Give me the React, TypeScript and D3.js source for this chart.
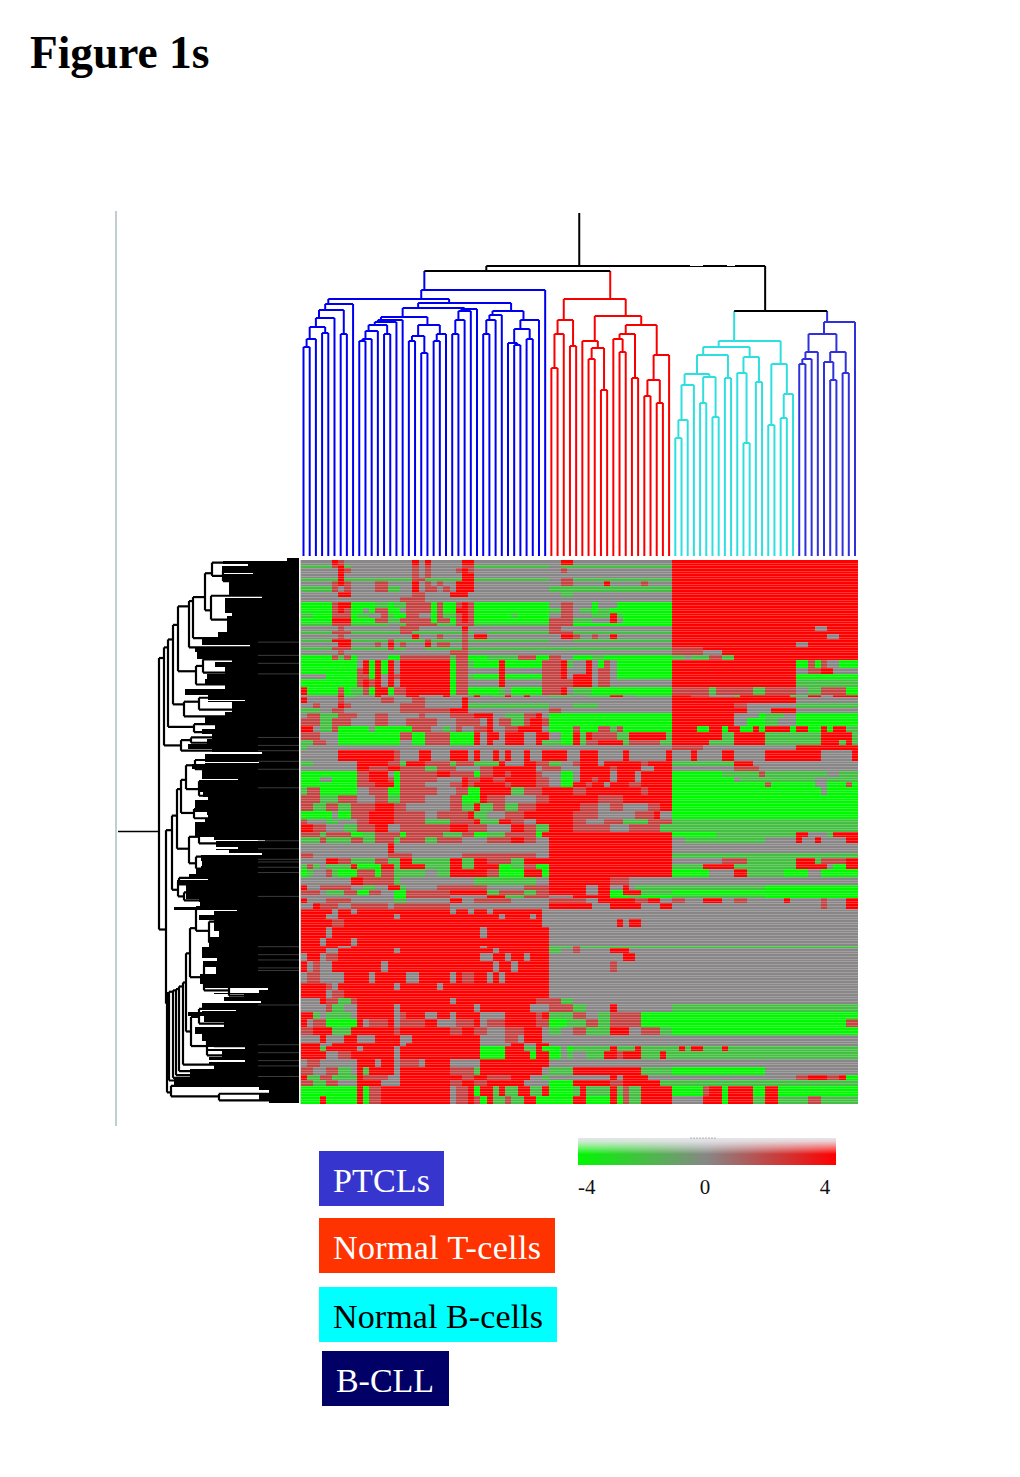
import React from 'react';
import * as d3 from 'd3';

// heatmap rows: [genes in band, runs], each run = value letter + column where it ends
const topRows: [number, string][] = [
  [2, 'A5 R6 r7 A18 R19 A20 R21 A26 R28 A42 R44 A60 R90'],
  [1, 'g5 r6 R7 g8 A18 r19 A20 r21 A26 r28 g40 A42 g44 g60 R90'],
  [2, 'A6 R7 r8 A18 r19 A20 r21 A25 r26 R27 r28 A42 r43 A60 R90'],
  [2, 'A6 R7 A18 r19 A20 r21 A26 R28 A44 A60 R90'],
  [1, 'g6 R7 g18 r20 g26 R28 g40 A42 r44 g60 R90'],
  [2, 'A5 r6 R7 r8 A12 r14 A18 R19 A20 r21 A22 r23 A25 R28 A42 r44 A49 R50 A55 r56 A60 R90'],
  [2, 'g5 r6 A7 r8 A12 r14 g16 A18 R19 A20 r22 A23 r24 A25 R28 A40 g60 R90'],
  [2, 'A6 R8 A18 r20 A24 R27 A42 g44 A60 R90'],
  [2, 'A16 r20 A60 R90'],
  [2, 'G5 r6 R8 G12 g14 G15 g17 r21 G22 r23 G25 r26 R27 r28 G40 A42 r44 A47 G48 A51 G60 R90'],
  [2, 'G5 r6 R7 r8 G10 A11 G12 r14 G16 A17 r21 G22 r23 G25 R27 r28 G40 g42 r44 A45 g47 G48 g50 G60 R90'],
  [2, 'g2 G5 r8 G9 g11 A13 r14 g15 G17 r19 A21 G22 r23 g25 r26 R27 r28 G34 g35 G40 A42 r44 A47 g50 R51 g52 G60 R90'],
  [2, 'G5 R8 G12 r14 g16 r21 G22 r24 G25 r26 R27 r28 G40 r44 g47 A50 R51 A52 G60 R90'],
  [1, 'g5 r8 g14 A16 g17 r22 g25 r28 g40 r44 G60 R90'],
  [2, 'A6 r7 A16 r19 A26 R27 A40 r42 A60 R83 A85 R90'],
  [1, 'g5 r8 g16 r18 g26 r27 g28 A30 g40 r44 g60 R90'],
  [2, 'A6 r7 A18 R19 A22 r23 A26 r27 A28 R30 A42 R44 r45 A47 r48 A50 R51 A60 R85 A87 R90'],
  [1, 'g5 R8 g14 r15 g20 r21 g26 r27 g40 A44 g60 R90'],
  [2, 'A6 R8 A12 r13 A14 R15 A16 r17 A20 R21 A22 r24 A26 r27 A60 R80 A82 R90'],
  [1, 'g5 r8 g14 r15 g17 A20 g26 r27 g60 r65 R90'],
  [2, 'A6 r7 A24 r27 A60 r65 A68 R90'],
  [2, 'G5 r6 g7 r8 G9 A14 G16 r24 g25 r27 G30 g35 r38 G40 r42 A44 G47 g49 G60 g62 A63 g66 r68 g70 R90'],
  [3, 'G9 A10 R11 G12 R13 G14 R15 A16 R24 G25 r27 g28 G32 R33 G39 r42 R43 g44 A46 R47 A48 G49 r50 A51 G60 R80 G82 r83 G84 r85 A87 G90'],
  [2, 'G9 r10 R11 G12 R13 G14 R15 A16 R24 G25 r27 A32 R33 A39 r42 R43 A46 R47 A48 r50 A51 G60 R80 A82 r84 R86 A90'],
  [2, 'A4 G9 r11 G12 R13 A14 R15 r16 R24 G25 r27 g28 G32 R33 G39 r42 R43 A44 R47 A48 r50 A51 G60 R80 G90'],
  [3, 'G9 r10 R11 r12 R13 A14 R15 A16 R24 G25 r27 A32 R33 A39 r44 R47 A48 r50 A60 R80 g90'],
  [3, 'R1 G6 r7 G8 g10 r11 G12 R14 G15 r17 R24 G25 r27 G32 g33 A34 G39 r42 R43 A44 g47 G60 r66 g67 r73 g75 r80 A82 g84 r88 G90'],
  [1, 'A6 R7 g9 A12 R13 A17 R19 A23 R24 A28 R29 A31 g33 R34 A36 R37 A40 g44 A46 g50 R52 A54 g60 R63 r66 A70 g71 R79 g82 R84 A86 R90'],
  [2, 'R1 A6 r7 A13 r15 A18 r20 A26 R27 A60 R80 A90'],
  [2, 'A2 r3 A6 R7 r8 A16 r20 A26 R27 g40 A44 g48 A60 R70 r72 A80 g90'],
  [2, 'g3 A5 r7 A16 r24 R27 A40 r42 A60 R72 A76 R80 A90'],
  [2, 'A1 r3 g6 r9 A12 r14 A19 r20 A24 r28 R31 A33 g36 r38 R39 A40 G60 R70 A74 G75 g78 A80 G90'],
  [3, 'r3 g5 r8 A12 r14 A17 r22 A25 r29 A30 R31 A32 r34 g36 r37 R39 r40 G60 R70 A72 G75 g77 A80 G90'],
  [2, 'R2 A3 g5 r6 G11 A12 G18 r21 A23 g24 A25 r26 A28 r30 R31 A33 r35 R37 R39 A40 G44 r45 G48 r50 g51 r52 G60 R64 G66 R68 G69 R71 G73 R74 G75 R79 G80 R82 G84 R85 G86 R88 g90'],
  [3, 'r3 A6 G16 r18 G20 r24 G28 R29 A30 R32 A33 R36 A38 R40 A42 G44 R45 g46 R47 r51 g53 R59 g60 R68 g70 R75 g84 R89 g90'],
  [2, 'g2 r4 A6 G16 A18 G20 r24 G28 R29 A30 R31 A33 R36 A38 R39 g42 G44 R45 g46 r48 R52 g53 r58 g60 R66 g70 R75 g84 R87 g88 R89 g90'],
  [2, 'g1 A60 r65 A80 R90'],
  [4, 'A6 R15 r16 A19 R21 A24 R27 A28 R29 A31 R32 A33 R34 A36 R37 A39 R43 A45 R48 A52 R53 A59 R60 A63 R64 A68 R70 A75 R84 A89 R90'],
  [2, 'g2 A9 R14 r16 g17 R20 r24 g25 r28 g32 R33 A36 R38 r40 g42 A44 r45 R48 A49 R55 r56 R60 g70 R73 A90'],
  [2, 'A9 R11 r14 R16 r20 g22 r25 A29 r31 R33 R38 A39 r42 A45 R50 r51 R55 A57 R60 A70 r74 A90'],
  [2, 'G9 r11 R14 A15 G16 r22 R24 r28 G29 r31 R33 r34 R38 r39 A42 G44 A45 R50 A51 R54 A55 R60 G68 g74 r75 g85 A87 g90'],
  [2, 'G3 A5 G9 r11 R14 r15 G16 r22 A26 R27 r29 R31 r33 R38 r40 A42 G44 A45 R47 r48 R50 A51 R54 A55 R60 G70 A71 g83 A85 g90'],
  [2, 'G9 r12 R15 G16 r20 A24 r26 R27 r28 R33 r34 R38 r40 A42 G44 R46 r47 R49 A50 R53 r55 R60 G75 r76 G83 A85 G88 r89 G90'],
  [3, 'g1 r3 G9 A11 r14 G16 r22 A25 r27 G29 R33 R34 g36 r39 R44 r46 R55 r56 R60 G84 A85 G90'],
  [3, 'r3 g6 r9 A12 r14 g16 r20 A24 r26 G29 R30 r33 A35 A38 r40 R48 r52 R57 R60 G90'],
  [3, 'r2 g4 r6 g8 r12 R15 r17 A24 r26 g28 R29 g31 r33 g35 r38 R45 r48 A50 r52 A56 r58 R60 G90'],
  [3, 'G5 A6 G8 r11 R15 r20 A22 r27 R28 g30 A33 r36 R44 r48 A54 r57 R58 A60 G90'],
  [2, 'r1 A4 g6 A9 r11 R15 r20 g24 r28 R29 g32 R34 r36 A38 R44 r46 A49 r52 g56 r60 g90'],
  [3, 'R2 r4 A7 g9 r12 R14 A16 r24 R27 r30 A34 R36 r38 g40 R44 r50 A53 r58 g60 g90'],
];

const bottomRows: [number, string][] = [
  [2, 'r3 g4 r8 G10 g12 r16 G17 r23 g26 r28 G30 g33 r38 G39 R60 G67 g80 R82 A85 g86 R88 R90'],
  [2, 'g3 r4 g8 r10 g12 r15 g16 r20 g22 r26 A30 r34 R36 r38 A40 R60 A62 g75 A80 R81 A83 R84 A88 R90'],
  [4, 'A14 R15 A40 R60 A90'],
  [2, 'r2 A14 r18 A26 r32 r38 A40 R60 g90'],
  [2, 'A4 R6 r8 g12 r14 g16 R18 g24 R26 g28 R30 r34 g36 R40 R60 A68 r72 g80 R83 g84 r88 R90'],
  [2, 'g1 r2 g3 A4 g8 R9 G13 R15 g16 R20 g24 R26 g28 R32 G34 g36 r38 G40 R60 g65 R70 g80 R85 A86 G88 R90'],
  [3, 'G1 g2 A4 r5 g6 G9 r12 G13 r15 g16 g20 A22 g24 R30 r32 G36 R39 G40 R60 G66 A70 R72 g78 G82 A84 G90'],
  [3, 'A8 R10 r15 g16 A28 g38 A40 R50 r53 A60 A90'],
  [2, 'R1 A3 r8 A10 g12 A14 R16 g17 A22 r30 A36 r40 R46 A48 R50 A52 R53 A54 g60 g75 G90'],
  [2, 'r3 A4 g7 r9 G11 r13 A15 G17 r24 R30 g32 r36 g38 r40 R46 A48 R50 G52 R55 g60 G90'],
  [1, 'A15 G17 r24 A30 R33 g36 r40 A44 R50 G53 g55 G60 g75 G90'],
  [2, 'R1 A4 r8 A15 g17 A24 R26 A28 r34 A40 r44 r46 A48 R54 r56 R58 A60 r62 A65 R68 A70 r72 A78 R79 A84 r85 A88 R90'],
  [2, 'A2 R3 r6 A8 r14 A15 r16 r24 A28 A40 R47 A50 R55 A58 R60 A84 r85 A88 R90'],
  [2, 'R5 A6 R8 A9 R24 A25 R27 A28 R30 A31 R39 A90'],
  [2, 'R4 A6 R8 R15 A16 R32 A33 R37 A38 R39 A90'],
  [3, 'R5 r7 R39 A51 R52 A53 R55 A90'],
  [4, 'R4 A5 R29 A30 R40 A90'],
  [3, 'R3 A4 R8 A9 R40 A90'],
  [1, 'R6 A8 R29 A30 R40 g44 r45 g90'],
  [2, 'R4 A6 R15 A16 R31 A32 R40 g42 A44 r45 A50 R51 R53 A55 A90'],
  [3, 'A1 R3 A4 r6 R29 A31 R33 A34 R36 A37 R40 A52 R54 A90'],
  [4, 'R1 A2 r3 A5 R13 A14 R31 A32 R34 A35 R40 A50 r51 A90'],
  [4, 'A1 r3 A7 R11 A12 R17 A19 R24 A25 R26 r28 R30 A31 R32 A33 R40 A90'],
  [3, 'R4 r5 A6 R15 A16 R22 A23 R40 A90'],
  [3, 'R4 A5 r7 R40 A90'],
  [2, 'A3 R4 r6 g8 r9 R24 A25 R38 r40 r42 g44 A90'],
  [3, 'A4 r5 g7 A9 R15 A16 R28 A29 R33 R37 A40 r44 g46 A50 R51 A60 g90'],
  [3, 'R2 g3 A4 g8 A9 R15 A16 r17 R20 A22 R24 A25 R29 A33 R38 r39 R40 g44 r46 A48 g50 r55 G60 G90'],
  [3, 'R1 A2 r4 G9 R10 A11 r14 R15 A16 r20 R22 A25 r28 R29 A30 r33 R38 r40 G43 g46 r48 g50 r55 G88 r90'],
  [3, 'r2 R5 g8 R15 r16 R24 r26 R28 r30 A33 r36 R39 A40 g42 A44 r46 g50 R53 A55 r58 g60 G90'],
  [3, 'A3 R4 A7 R9 A12 R16 A18 R29 A33 r35 A36 R39 A90'],
  [1, 'R3 A5 R16 A17 R29 A34 R36 A38 R40 A90'],
  [2, 'R3 g4 R9 A10 R15 A16 R29 G33 R36 g38 R39 G42 A43 G44 g50 R51 g54 R55 g60 g61 R62 g63 R65 g68 R69 g90'],
  [3, 'R4 A6 r8 R15 A16 R29 G33 R37 G38 R40 G42 A43 g44 A46 g49 R51 r52 R55 g58 R59 g60 g90'],
  [3, 'A1 r3 A9 R12 A13 R15 A16 r19 A20 R24 A29 R40 A90'],
  [3, 'r2 A4 r6 g8 A9 R10 g11 R15 A16 R24 r28 g29 R31 R36 R39 A40 g44 R55 g60 G75 A90'],
  [2, 'R1 g3 r5 g9 R10 r14 A16 R26 r28 R30 r34 R37 A39 g40 A50 R51 A52 R56 A60 A80 r82 R85 r87 R88 G90'],
  [2, 'r2 g4 r6 A9 R13 A16 R24 r26 R28 r30 R36 A40 G44 R50 r52 R58 g60 g90'],
  [4, 'G9 R10 G11 r13 R24 A25 r27 R28 G29 R31 g32 R33 g35 R36 R37 g39 R40 G44 g45 R46 g50 R51 g52 r53 g55 R60 G65 r66 R68 G69 R73 G75 R77 G90'],
  [3, 'G3 R4 G9 R10 G11 r13 R24 A25 r27 R28 r29 G30 R31 g33 r34 g36 R38 G40 G44 R46 G50 R51 G52 r53 g55 R60 A65 R68 G69 R73 g75 R77 g82 r84 g90'],
];

const valueByLetter: Record<string, number> = { G: -4, g: -2, A: 0, r: 2, R: 4 };

// column dendrogram: [distance, left, right], 0 is a leaf
type Node = [number, Node | 0, Node | 0];
const ptclLeft: Node = [252, [246, [238, [229, [217, [209, 0, 0], 0], [223, 0, 0]], 0], [222, 0, 0]], 0];
const ptclMidLeft: Node = [239, [236, [234, [231, [225, [217, [215, 0, 0], 0], 0], [222, 0, 0]], 0], 0],
  [231, [220, [215, 0, 0], [203, 0, 0]], [222, [215, 0, 0], 0]]];
const ptclMidRight: Node = [247, [245, [236, [222, 0, 0], 0], 0], 0];
const ptclRight: Node = [245, [241, [236, [222, 0, 0], 0], 0],
  [236, [227, [213, 0, [211, 0, 0]], [217, 0, 0]], 0]];
const ptclTree: Node = [266, [257, ptclLeft, [253, [248, ptclMidLeft, ptclMidRight], ptclRight]], 0];
const tcellTree: Node = [257, [236, [222, [188, 0, 0], 0], [210, 0, 0]],
  [240, [215, 0, [208, [197, 0, 0], [166, 0, 0]]],
    [231, [222, [217, 0, [204, 0, 0]], [178, 0, 0]], [201, [176, [160, 0, 0], [153, 0, 0]], 0]]]];
const bcellTree: Node = [215, [209, [201, [182, [171, [136, [118, 0, 0], 0], 0], [179, [153, 0, 0], [139, 0, 0]]], [178, 0, 0]],
  [199, [183, 0, [113, 0, 0]], [174, 0, 0]]],
  [192, [131, 0, 0], [162, [138, 0, 0], 0]]];
const bcllTree: Node = [234, [222, [204, [197, [192, 0, 0], 0], 0], [204, [194, 0, [176, 0, 0]], [183, 0, 0]]], 0];
const columnTree: Node = [290, [285, ptclTree, tcellTree], [245, bcellTree, bcllTree]];
const columnColors = new Map<Node, string>([
  [ptclTree, '#0000f0'],
  [tcellTree, '#f80000'],
  [bcellTree, '#2fdfdf'],
  [bcllTree, '#3030dc'],
]);

// row dendrogram: [depth, upper, lower], a number is a bundle of that many genes
type RowNode = [number, RowNode | number, RowNode | number];
const rowTopA: RowNode = [87, 2, [76, 4, 4]];
const rowTop: RowNode = [110, [106, [94, rowTopA, [88, 7, 11]], 3], 4];
const rowUpper: RowNode = [135, [131, [126, [121, rowTop, [103, [96, 5, 5], 4]], [115, [100, 6, 3], 2]], [105, 4, 2]], [118, [108, 2, 2], 4]];
const rowMid: RowNode = [127, [122, [118, [113, [104, 3, 4], [100, 5, 6]], [105, 4, 3]], [110, [100, 5, 6], [103, 4, 5]]], [121, [120, 2, 3], [115, 3, 3]]];
const rowChainCore: RowNode = [109, [103, 2, [90, 9, 7]], [95, [80, 6, 4], [70, 4, 5]]];
const rowChain: RowNode = [130, [126, [123, [120, [116, [113, rowChainCore, [108, [100, 5, 6], [92, [85, 4, 3], 4]]], 3], 2], 1], 1], 1];
const rowBottom: RowNode = [128, 3, [80, 3, 2]];
const rowTree: RowNode = [140, rowUpper, [133, rowMid, [132, rowChain, rowBottom]]];

// left edge of the solid black mass: [genes, depth]
const rowEdges: [number, number][] = [
  [1.2, 12], [1.2, 71], [0.5, 51], [0.4, 72], [2.2, 72], [0.5, 46], [0.7, 72], [2, 72], [0.4, 41], [0.3, 65], [5, 65], [0.6, 37], [0.6, 69], [5, 69],
  [1.2, 62], [6, 67], [2, 76], [3, 92], [0.5, 49], [0.5, 92], [1.5, 99], [2.5, 97], [1.2, 62], [1.9, 79], [2.5, 69],
  [1.9, 87], [2.5, 89], [1.5, 69], [2.2, 109], [1.9, 86], [0.4, 54], [0.2, 86], [3.8, 62], [1.9, 69], [2.5, 89],
  [1.9, 79], [1.9, 92], [1.9, 82], [1.9, 87], [1.9, 106], [1.2, 82], [0.7, 37], [0.8, 89], [2.2, 89], [0.4, 40], [0.2, 89],
  [1.9, 102], [3.8, 92], [0.7, 56], [0.5, 92], [3.8, 96], [1.9, 91], [1.2, 86], [4.4, 99], [1.2, 87], [1.2, 86],
  [1.2, 89], [3.8, 99], [1.9, 99], [1.2, 80], [0.5, 34], [0.4, 78], [1.6, 78], [0.7, 56], [0.5, 78], [1.2, 65], [0.5, 37], [0.4, 93],
  [1.9, 93], [1.9, 92], [1.2, 93], [1.9, 98], [1.2, 105], [1.2, 86], [1.9, 117], [5, 108], [1.2, 95],
  [1.9, 94], [1, 120], [0.5, 57], [0.25, 80], [1.4, 80], [1.9, 95], [3.8, 80], [2.5, 75], [3.8, 85], [3.8, 92],
  [1.2, 77], [2.5, 91], [2.5, 78], [3.8, 94], [1.5, 90], [0.6, 31], [1.2, 40], [0.5, 80], [1, 55], [1.5, 70], [0.6, 38], [0.6, 92], [1.9, 92], [0.6, 58], [0.6, 92],
  [1.2, 106], [2.5, 90], [1.9, 70], [2.5, 99], [2.5, 92], [2.5, 88], [0.6, 54], [0.9, 88], [2.2, 72], [1.2, 85],
  [0.6, 54], [1.3, 85], [1.2, 80], [3.8, 104], [3, 120], [1.2, 40], [1.2, 30], [2.5, 40], [1.2, 30],
];
// single genes that show as thin grey lines through the black
const greyGenes = [31, 36, 39, 43, 67, 70, 72, 76, 79, 86, 106, 109, 113, 114, 116, 118, 127, 146, 149, 151, 154, 155, 168, 183, 186, 189, 191, 195];

const legendEntries = [
  { label: 'PTCLs', fill: '#3636cf', ink: '#fff', x: 319, y: 1151, w: 125, span: 97 },
  { label: 'Normal T-cells', fill: '#ff3300', ink: '#fff', x: 319, y: 1218, w: 236, span: 208 },
  { label: 'Normal B-cells', fill: '#00ffff', ink: '#000', x: 319, y: 1287, w: 238, span: 210 },
  { label: 'B-CLL', fill: '#000066', ink: '#fff', x: 322, y: 1351, w: 127, span: 98 },
];
const scaleTicks = [-4, 0, 4];

const heatColor = d3.scaleLinear<string>().domain([-4, 0, 4]).range(['#00f800', '#888686', '#ff0000']);

const HEAT = { left: 301, right: 858, top: 560, bottom: 1104 };
const COLUMNS = 90;
const EDGE_PAD = 5;

function parseRuns(text: string) {
  const runs: { start: number; end: number; value: number }[] = [];
  let start = 0;
  for (const token of text.split(' ')) {
    const end = +token.slice(1);
    if (end <= start) continue;
    runs.push({ start, end, value: valueByLetter[token[0]] });
    start = end;
  }
  return runs;
}

function nodeColor(node: d3.HierarchyNode<Node | 0>) {
  for (const a of node.ancestors()) {
    const c = columnColors.get(a.data as Node);
    if (c) return c;
  }
  return '#000';
}

function ColumnDendrogram() {
  const root = d3.hierarchy<Node | 0>(columnTree, (d) => (d === 0 ? null : [d[1], d[2]]));
  const leafX = d3.scaleLinear().domain([0, COLUMNS - 1]).range([303.5, 855]);
  const distY = d3.scaleLinear().domain([0, 290]).range([556, 266]);
  const leaves = root.leaves();
  const index = new Map(leaves.map((l, i) => [l, i]));
  const xOf = (n: d3.HierarchyNode<Node | 0>) => d3.mean(n.leaves(), (l) => leafX(index.get(l)!))!;
  const yOf = (n: d3.HierarchyNode<Node | 0>) => distY(n.data === 0 ? 0 : n.data[0]);
  const parts: React.ReactNode[] = [];
  root.descendants().forEach((n, i) => {
    if (!n.children) return;
    const [a, b] = n.children;
    const y = yOf(n);
    n.children.forEach((c, j) => {
      parts.push(<path key={`s${i}-${j}`} d={`M${xOf(c)},${yOf(c)}V${y}`} stroke={nodeColor(c)} />);
    });
    parts.push(<path key={`h${i}`} d={`M${xOf(a)},${y}H${xOf(b)}`} stroke={nodeColor(n)} />);
  });
  return (
    <g fill="none" strokeWidth={2}>
      {parts}
      <path d={`M${xOf(root)},${yOf(root)}V213`} stroke="#000" />
      {[[690, 13], [727, 8]].map(([x, w]) => (
        <rect key={x} x={x} y={264} width={w} height={2} fill="#fff" />
      ))}
    </g>
  );
}

function RowDendrogram() {
  const root = d3.hierarchy<RowNode | number>(rowTree, (d) => (typeof d === 'number' ? null : [d[1], d[2]]));
  const depthX = d3.scaleLinear().domain([0, 181]).range([299, 118]);
  const leaves = root.leaves();
  const total = d3.sum(leaves, (l) => l.data as number);
  const geneY = d3.scaleLinear().domain([0, total]).range([HEAT.top, HEAT.bottom - 1]);
  const centre = new Map<unknown, { pos: number; n: number }>();
  let cursor = 0;
  for (const l of leaves) {
    const n = l.data as number;
    centre.set(l, { pos: cursor + n / 2, n });
    cursor += n;
  }
  const yOf = (node: d3.HierarchyNode<RowNode | number>) => {
    const ls = node.leaves();
    const n = d3.sum(ls, (l) => centre.get(l)!.n);
    return geneY(d3.sum(ls, (l) => centre.get(l)!.pos * centre.get(l)!.n) / n);
  };
  const edgeTotal = d3.sum(rowEdges, (d) => d[0]);
  const edgeY = d3.scaleLinear().domain([0, edgeTotal]).range([HEAT.top - 2, HEAT.bottom - 1]);
  let run = 0;
  const edgeRects = rowEdges.map(([genes, depth], i) => {
    const y0 = edgeY(run);
    run += genes;
    const pad = depth > 55 ? EDGE_PAD : 0;
    return <rect key={i} x={depthX(depth + pad)} y={y0} width={depthX(0) - depthX(depth + pad)} height={edgeY(run) - y0} fill="#000" />;
  });
  const lines: React.ReactNode[] = [];
  root.descendants().forEach((n, i) => {
    if (!n.children) return;
    const x = depthX((n.data as RowNode)[0]);
    const [a, b] = n.children;
    lines.push(<path key={`v${i}`} d={`M${x},${yOf(a)}V${yOf(b)}`} />);
    n.children.forEach((c, j) => {
      const cx = typeof c.data === 'number' ? depthX(0) : depthX(c.data[0]);
      lines.push(<path key={`l${i}-${j}`} d={`M${x},${yOf(c)}H${cx}`} />);
    });
  });
  return (
    <g>
      <g stroke="#000" strokeWidth={2.2} fill="none">{lines}</g>
      <path d={`M${depthX(140)},${yOf(root)}H${depthX(181)}`} stroke="#000" strokeWidth={1.5} />
      <g shapeRendering="crispEdges">{edgeRects}</g>
      {greyGenes.map((g) => (
        <line key={g} x1={258} x2={299} y1={geneY(g)} y2={geneY(g)} stroke="#555" strokeWidth={0.7} />
      ))}
    </g>
  );
}

function Heatmap() {
  const rows = [...topRows, ...bottomRows];
  const total = d3.sum(rows, (r) => r[0]);
  const x = d3.scaleLinear().domain([0, COLUMNS]).range([HEAT.left, HEAT.right]);
  const y = d3.scaleLinear().domain([0, total]).range([HEAT.top, HEAT.bottom]);
  let gene = 0;
  return (
    <g shapeRendering="crispEdges">
      {rows.map(([genes, text], i) => {
        const y0 = y(gene);
        gene += genes;
        const h = y(gene) - y0;
        return parseRuns(text).map((r) => (
          <rect key={`${i}-${r.start}`} x={x(r.start)} y={y0} width={x(r.end) - x(r.start)} height={h} fill={heatColor(r.value)} />
        ));
      })}
      {d3.range(1, total).map((g) => (
        <rect key={g} x={HEAT.left} y={Math.round(y(g))} width={HEAT.right - HEAT.left} height={1} fill="#fff" opacity={0.22} />
      ))}
      <rect x={HEAT.left - 1} y={HEAT.top} width={1} height={HEAT.bottom - HEAT.top} fill="#ccc" />
    </g>
  );
}

function ColorBar() {
  const x = d3.scaleLinear().domain([-4, 4]).range([578, 836]);
  return (
    <g>
      <defs>
        <linearGradient id="bar">
          {scaleTicks.map((t) => (
            <stop key={t} offset={(t + 4) / 8} stopColor={heatColor(t)} />
          ))}
        </linearGradient>
        <linearGradient id="fade" x2="0" y2="1">
          <stop offset="0" stopColor="#e4e4ea" stopOpacity={1} />
          <stop offset="0.12" stopColor="#e8e8ec" stopOpacity={0.9} />
          <stop offset="0.6" stopColor="#fff" stopOpacity={0} />
        </linearGradient>
      </defs>
      <rect x={578} y={1138} width={258} height={27} fill="url(#bar)" />
      <rect x={578} y={1138} width={258} height={27} fill="url(#fade)" />
      <line x1={690} x2={716} y1={1138} y2={1138} stroke="#999" strokeWidth={0.7} strokeDasharray="2 1" />
      {scaleTicks.map((t) => (
        <text key={t} x={t === -4 ? x(t) : t === 0 ? 705 : 825} y={1194} fontSize={21} textAnchor={t === -4 ? 'start' : 'middle'} fill="#111">
          {t}
        </text>
      ))}
    </g>
  );
}

export default function App() {
  return (
    <svg width={1020} height={1477} style={{ position: 'absolute', left: 0, top: 0, background: '#fff' }} fontFamily="'Liberation Serif', serif">
      <text x={30} y={68} fontSize={45.4} fontWeight="bold">Figure 1s</text>
      <line x1={116} x2={116} y1={211} y2={1126} stroke="#a9bfc4" strokeWidth={1.5} />
      <ColumnDendrogram />
      <RowDendrogram />
      <Heatmap />
      <ColorBar />
      {legendEntries.map((d) => (
        <g key={d.label}>
          <rect x={d.x} y={d.y} width={d.w} height={55} fill={d.fill} />
          <text x={d.x + 14} y={d.y + 41} fontSize={34} fill={d.ink} textLength={d.span}>{d.label}</text>
        </g>
      ))}
    </svg>
  );
}
